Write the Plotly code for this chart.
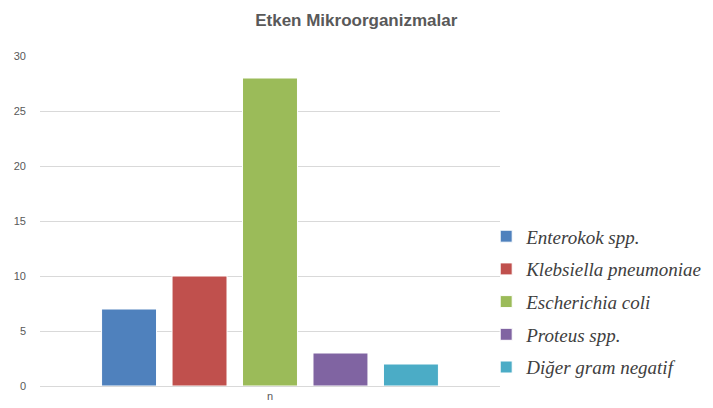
import plotly.graph_objects as go

# Etken mikroorganizmalar (n)
categories = ["n"]
organisms = ["Enterokok spp.", "Klebsiella pneumoniae", "Escherichia coli",
             "Proteus spp.", "Diğer gram negatif"]
counts = [7, 10, 28, 3, 2]
colors = ["#4F81BD", "#C0504D", "#9BBB59", "#8064A2", "#4BACC6"]

fig = go.Figure()

for i, (name, val, col) in enumerate(zip(organisms, counts, colors)):
    fig.add_trace(go.Bar(
        x=categories,
        y=[val],
        name=name,
        marker=dict(color=col, line=dict(color="white", width=1)),
        legendgroup=str(i),
    ))

# sayfa gövdesinin 8px kenar boşluğu hesaba katıldı
fig.update_layout(
    width=705, height=400,
    margin=dict(l=32, r=213, t=48, b=22, autoexpand=False),
    paper_bgcolor="white",
    plot_bgcolor="white",
    title=dict(text="<b>Etken Mikroorganizmalar</b>", x=0.494, xref="container",
               xanchor="center", y=0.97, yanchor="middle",
               font=dict(family="Liberation Sans, Arial", size=17, color="#595959")),
    barmode="group",
    bargap=0.234,
    bargroupgap=0.22,
    showlegend=True,
    legend=dict(
        x=0.97, xanchor="left", y=0.255, yanchor="middle",
        bgcolor="rgba(0,0,0,0)",
        font=dict(family="Liberation Serif, Times New Roman", size=19,
                  color="#404040", style="italic"),
        traceorder="grouped",
        tracegroupgap=5,
        itemwidth=30,
    ),
    font=dict(family="Liberation Sans, Arial", size=11, color="#595959"),
)

fig.update_yaxes(range=[0, 30], dtick=5, showgrid=True, gridcolor="#D9D9D9",
                 gridwidth=1, zeroline=False, showline=False,
                 ticks="", ticklabelstandoff=13)
fig.update_xaxes(showgrid=False, showline=True, linecolor="#D9D9D9",
                 ticks="")

fig.write_html("out.html")
